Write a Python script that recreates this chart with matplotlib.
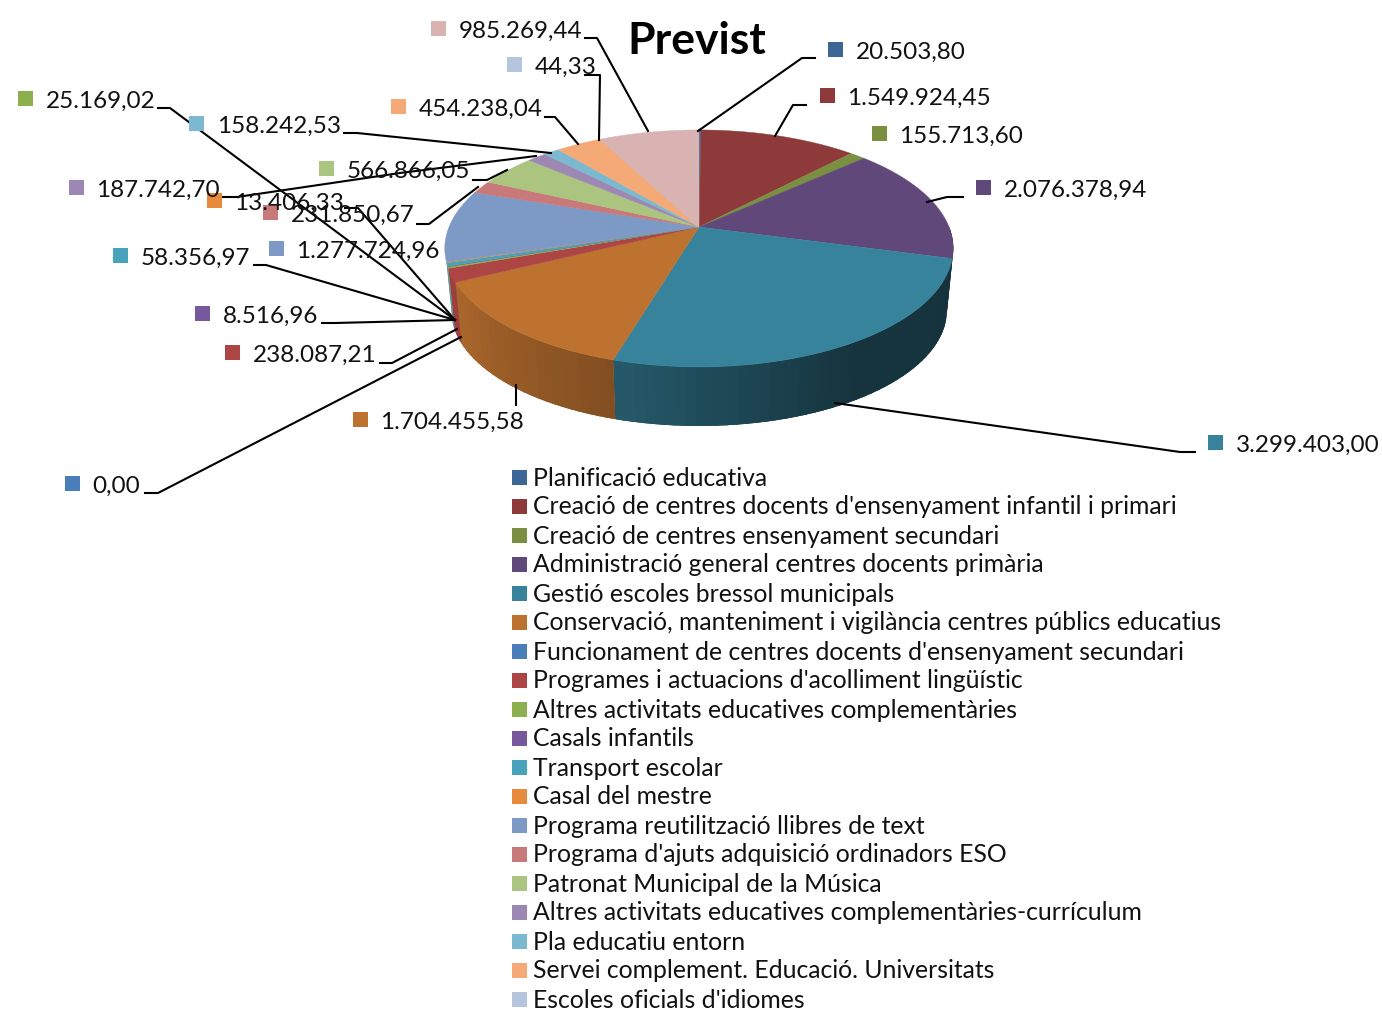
import numpy as np
import matplotlib
matplotlib.use('Agg')
from matplotlib import pyplot as plt
from matplotlib.colors import to_rgb

noms = ["Planificació educativa",
        "Creació de centres docents d'ensenyament infantil i primari",
        "Creació de centres ensenyament secundari",
        "Administració general centres docents primària",
        "Gestió escoles bressol municipals",
        "Conservació, manteniment i vigilància centres públics educatius",
        "Funcionament de centres docents d'ensenyament secundari",
        "Programes i actuacions d'acolliment lingüístic",
        "Altres activitats educatives complementàries",
        "Casals infantils",
        "Transport escolar",
        "Casal del mestre",
        "Programa reutilització llibres de text",
        "Programa d'ajuts adquisició ordinadors ESO",
        "Patronat Municipal de la Música",
        "Altres activitats educatives complementàries-currículum",
        "Pla educatiu entorn",
        "Servei complement. Educació. Universitats",
        "Escoles oficials d'idiomes",
        "Altres"]

valors = [20503.80, 1549924.45, 155713.60, 2076378.94, 3299403.00, 1704455.58,
          0.00, 238087.21, 25169.02, 8516.96, 58356.97, 13406.33, 1277724.96,
          231850.67, 566866.05, 187742.70, 158242.53, 454238.04, 44.33, 985269.44]

etiquetes = ["20.503,80", "1.549.924,45", "155.713,60", "2.076.378,94", "3.299.403,00",
             "1.704.455,58", "0,00", "238.087,21", "25.169,02", "8.516,96", "58.356,97",
             "13.406,33", "1.277.724,96", "231.850,67", "566.866,05", "187.742,70",
             "158.242,53", "454.238,04", "44,33", "985.269,44"]

colors = ['#3d6596', '#8f3a3a', '#7a9040', '#60497a', '#37839b', '#bd7230', '#4a7ebb',
          '#ac4544', '#8db04e', '#77589c', '#47a3bb', '#e88a3c', '#7d99c6', '#c87a7a',
          '#abc47f', '#9d88b4', '#7ab9cf', '#f5a976', '#b6c5de', '#d9b2b2']

# posicio del quadret de cada etiqueta (pixels)
pos_etiq = [(835.5, 49), (827.5, 95), (879.5, 133), (983.5, 187), (1215.5, 442), (360.5, 419),
            (72.5, 483), (232.5, 352), (25.5, 98), (202.5, 313), (120.5, 255), (214.5, 200),
            (276.5, 248), (270.5, 212), (326.5, 168), (76.5, 187), (197, 123), (398.5, 106),
            (514.5, 64), (438.5, 28)]

# linies guia
guies = [[(815, 58), (802, 58), (698, 131)],
         [(806, 105), (793, 105), (775, 136)],
         None,
         [(963, 197), (947, 197), (927, 202)],
         [(1195, 452), (1180, 452), (835, 403)],
         [(516, 405), (516, 385)],
         [(145, 493), (158, 493), (461, 337)],
         [(380, 363), (392, 363), (457, 329)],
         [(158, 108), (170, 108), (455, 320)],
         [(322, 323), (335, 323), (455, 320)],
         [(254, 265), (266, 265), (455, 320)],
         [(345, 208), (358, 208), (455, 320)],
         None,
         [(417, 224), (429, 224), (478, 187)],
         [(473, 180), (487, 180), (507, 170)],
         [(223, 197), (237, 197), (400, 173), (536, 156)],
         [(344, 133), (357, 133), (551, 153)],
         [(545, 117), (555, 117), (578, 144)],
         [(585, 75), (600, 75), (599, 140)],
         [(585, 38), (597, 38), (648, 131)]]

plt.rcParams['font.family'] = ['Lato', 'DejaVu Sans']

fig = plt.figure(figsize=(13.82, 10.11), dpi=100)
ax = fig.add_axes([0, 0, 1, 1])
ax.set_xlim(0, 1382)
ax.set_ylim(1011, 0)
ax.axis('off')

# pastis 3D amb perspectiva
cx, cy = 699, 227
rx, ry, k = 250, 114.6, 0.181
esc, fons = 0.975, 62.5


def vora(graus, s=1.0, d=0.0):
    t = np.radians(graus)
    u, v = np.sin(t), -np.cos(t)
    return cx + s * rx * u / (1 - k * v), cy + d + s * ry * v / (1 - k * v)


def ombra(graus):
    return np.interp(graus, [105, 150, 196, 243, 270], [.39, .40, .68, .9, .95])


acum = np.concatenate([[0], np.cumsum(valors)]) / np.sum(valors) * 360

# costat: primer una base sencera, despres el degradat a sobre
for i in range(len(valors)):
    a, b = max(acum[i], 90), min(acum[i + 1], 253)
    if b <= a:
        continue
    g = np.linspace(a, b, 200)
    xa, ya = vora(g)
    xb, yb = vora(g[::-1], esc, fons)
    base = tuple(ombra((a + b) / 2) * np.array(to_rgb(colors[i])))
    ax.fill(np.r_[xa, xb], np.r_[ya, yb], color=base, lw=0, zorder=2)
    passos = np.append(np.arange(a, b, 2.0), b)
    for g0, g1 in zip(passos[:-1], passos[1:]):
        t = np.linspace(max(g0 - 0.8, a), g1, 8)
        xa, ya = vora(t)
        xb, yb = vora(t[::-1], esc, fons)
        c = tuple(ombra((g0 + g1) / 2) * np.array(to_rgb(colors[i])))
        ax.fill(np.r_[xa, xb], np.r_[ya, yb], color=c, lw=0, zorder=2)

# cara de dalt
for i in range(len(valors)):
    if acum[i + 1] <= acum[i]:
        continue
    g = np.linspace(acum[i], acum[i + 1], 200)
    x, y = vora(g)
    ax.fill(np.r_[cx, x], np.r_[cy, y], color=colors[i], lw=0.3, zorder=3)

# etiquetes
for i in range(len(etiquetes)):
    px, py = pos_etiq[i]
    ax.fill([px - 7.5, px + 7.5, px + 7.5, px - 7.5], [py - 7.5, py - 7.5, py + 7.5, py + 7.5],
            color=colors[i], lw=0, zorder=5)
    ax.text(px + 20, py + 3, etiquetes[i], fontsize=17.5, color='#111111',
            ha='left', va='center', zorder=6)
    if guies[i]:
        ax.plot([p[0] for p in guies[i]], [p[1] for p in guies[i]], color='black', lw=1.5, zorder=4)

ax.text(697, 41, "Previst", fontsize=32, fontweight='bold', ha='center', va='center', color='black', zorder=6)

# llegenda, l'ultima no hi cap
for i in range(19):
    y = 477 + i * 29
    ax.fill([512, 527, 527, 512], [y - 7.5, y - 7.5, y + 7.5, y + 7.5], color=colors[i], lw=0)
    ax.text(533.5, y + 1, noms[i], fontsize=17.85, color='#111111', ha='left', va='center')

fig.savefig('out.png', dpi=100)
